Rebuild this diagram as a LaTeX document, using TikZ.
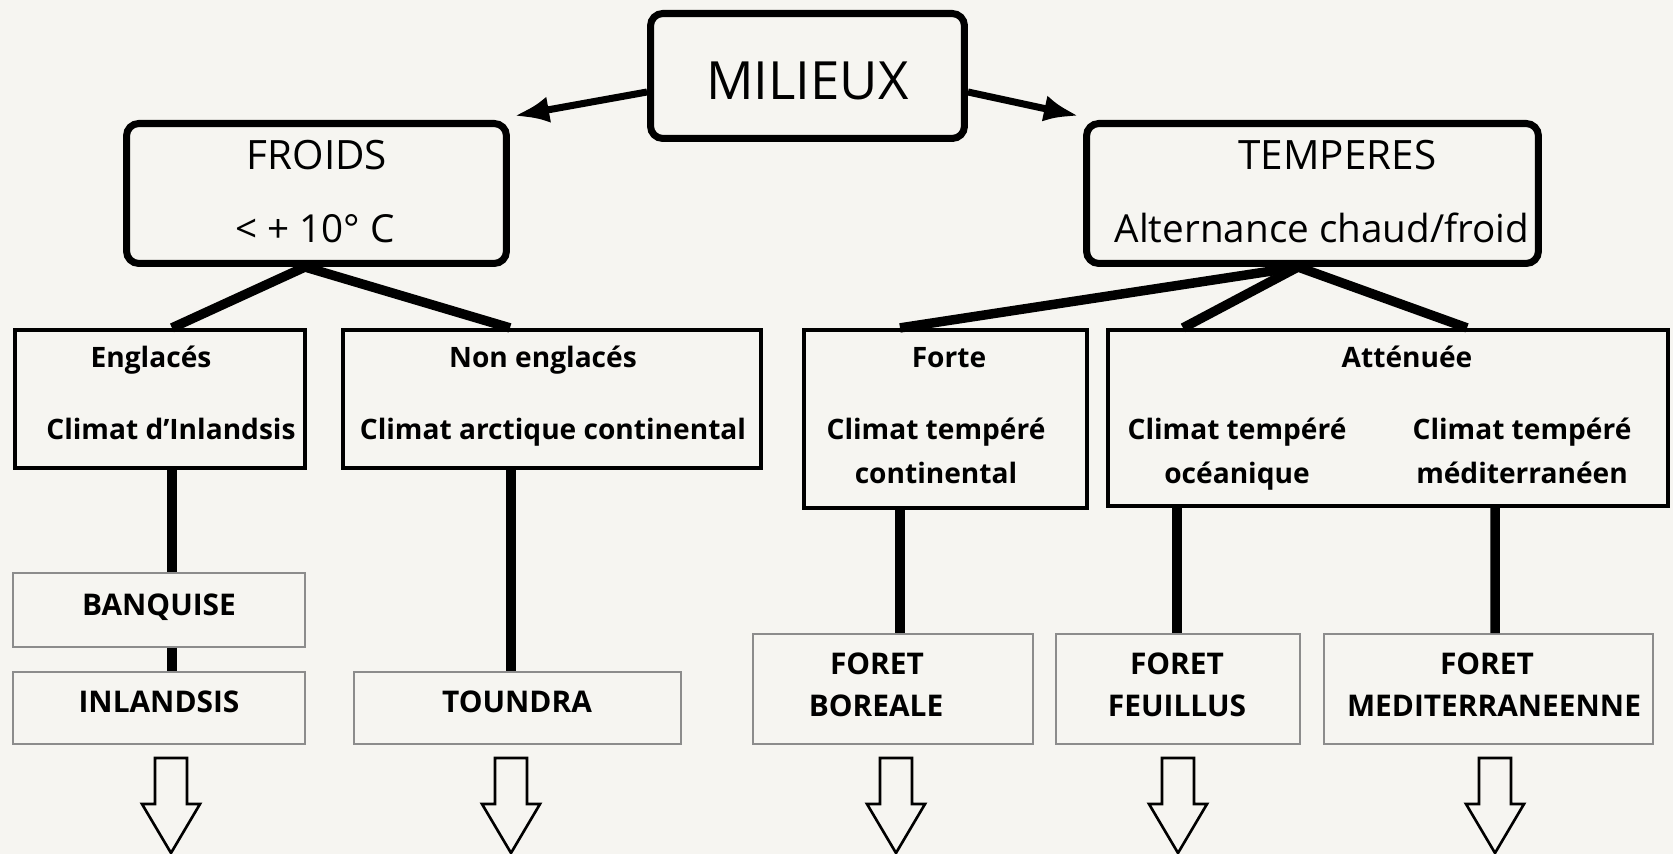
\documentclass[tikz,border=0pt]{standalone}
\usepackage{fontspec}
\setmainfont{Open Sans}
\usetikzlibrary{calc,arrows.meta}
\definecolor{bg}{RGB}{246,245,241}
\definecolor{thin}{RGB}{140,140,140}
\begin{document}
\begin{tikzpicture}[x=0.02cm,y=-0.02cm,
  topbox/.style={draw, line width=4pt, rounded corners=7pt, inner sep=0pt},
  midbox/.style={draw, line width=2.4pt, inner sep=0pt},
  lowbox/.style={draw=thin, line width=0.9pt, inner sep=0pt},
  conn/.style={line width=5.4pt},
  arr/.style={line width=4pt, -{Latex[length=20pt,width=15pt]}},
  txt/.style={inner sep=0pt, anchor=base},
  big/.style={font=\fontsize{30}{36}\selectfont},
  hd/.style={font=\fontsize{23}{28}\selectfont},
  hdb/.style={font=\fontsize{22}{28}\selectfont},
  lab/.style={font=\bfseries\fontsize{16}{20}\selectfont},
  caplab/.style={font=\bfseries\fontsize{17}{20}\selectfont},
  hollow/.style={draw, line width=1.5pt, fill=bg, line join=miter},
  downarrow/.pic={\draw[hollow] (-16,0) -- (16,0) -- (16,46) -- (29,46) -- (0,95) -- (-29,46) -- (-16,46) -- cycle;}
]
\fill[bg] (0,0) rectangle (1673,854);
\useasboundingbox (0,0) rectangle (1673,854);

% top level
\node[topbox, minimum width=6.28cm, minimum height=2.5cm] (milieux) at (807.5,76) {};
\node[txt,big] (tmil) at (807.5,100) {MILIEUX};

\node[topbox, minimum width=7.6cm, minimum height=2.8cm] (froids) at (316.5,193.5) {};
\node[txt,hd] (tfroids) at (317,170) {FROIDS};
\node[txt,hdb] (tdeg) at (315,243) {< + 10° C};

\node[topbox, minimum width=9.04cm, minimum height=2.8cm] (temperes) at (1312.5,193.5) {};
\node[txt,hd] (ttemp) at (1337.5,170) {TEMPERES};
\node[txt,hdb] (talt) at (1322,243) {Alternance chaud/froid};

% middle level
\node[midbox, minimum width=5.8cm, minimum height=2.76cm] (englaces) at (160,399) {};
\node[txt,lab] (tengl) at (151,368) {Englacés};
\node[txt,lab] (tinl) at (171,440) {Climat d'Inlandsis};

\node[midbox, minimum width=8.36cm, minimum height=2.76cm] (nonengl) at (552,399) {};
\node[txt,lab] (tnon) at (543,368) {Non englacés};
\node[txt,lab] (tarc) at (553,440) {Climat arctique continental};

\node[midbox, minimum width=5.66cm, minimum height=3.56cm] (forte) at (945.5,419) {};
\node[txt,lab] (tforte) at (949,368) {Forte};
\node[txt,lab] (tct1) at (936,440) {Climat tempéré};
\node[txt,lab] (tct2) at (936,483) {continental};

\node[midbox, minimum width=11.2cm, minimum height=3.52cm] (attenuee) at (1388,418) {};
\node[txt,lab] (tatt) at (1407,368) {Atténuée};
\node[txt,lab] (toc1) at (1237,440) {Climat tempéré};
\node[txt,lab] (toc2) at (1237,483) {océanique};
\node[txt,lab] (tme1) at (1522,440) {Climat tempéré};
\node[txt,lab] (tme2) at (1522,483) {méditerranéen};

% lower level
\node[lowbox, minimum width=5.84cm, minimum height=1.48cm] (banquise) at (159,610) {};
\node[txt,caplab] (tban) at (159,615) {BANQUISE};
\node[lowbox, minimum width=5.84cm, minimum height=1.44cm] (inlandsis) at (159,708) {};
\node[txt,caplab] (tinla) at (159,712) {INLANDSIS};
\node[lowbox, minimum width=6.54cm, minimum height=1.44cm] (toundra) at (517.5,708) {};
\node[txt,caplab] (ttou) at (517,712) {TOUNDRA};
\node[lowbox, minimum width=5.6cm, minimum height=2.2cm] (boreale) at (893,689) {};
\node[txt,caplab] (tbo1) at (877,674) {FORET};
\node[txt,caplab] (tbo2) at (876,716) {BOREALE};
\node[lowbox, minimum width=4.88cm, minimum height=2.2cm] (feuillus) at (1178,689) {};
\node[txt,caplab] (tfe1) at (1177,674) {FORET};
\node[txt,caplab] (tfe2) at (1177,716) {FEUILLUS};
\node[lowbox, minimum width=6.58cm, minimum height=2.2cm] (medit) at (1488.5,689) {};
\node[txt,caplab] (tmd1) at (1487,674) {FORET};
\node[txt,caplab] (tmd2) at (1494,716) {MEDITERRANEENNE};

% arrows from MILIEUX
\draw[arr] ($(milieux.west)+(0,16)$) -- ($(froids.north east)+(4,-4)$);
\draw[arr] ($(milieux.east)+(0,16)$) -- ($(temperes.north west)+(-4,-4)$);

% slanted connectors
\draw[conn] ($(froids.south)+(-11.5,0)$) -- ($(englaces.north)+(12,0)$);
\draw[conn] ($(froids.south)+(-11.5,0)$) -- ($(nonengl.north)+(-42,0)$);
\draw[conn] ($(temperes.south)+(-14.5,0)$) -- ($(forte.north)+(-45.5,0)$);
\draw[conn] ($(temperes.south)+(-14.5,0)$) -- ($(attenuee.north)+(-205,0)$);
\draw[conn] ($(temperes.south)+(-14.5,0)$) -- ($(attenuee.north)+(79,0)$);

% vertical connectors
\draw[conn] ($(englaces.south)+(12,0)$) -- ($(banquise.north)+(13,0)$);
\draw[conn] ($(banquise.south)+(13,0)$) -- ($(inlandsis.north)+(13,0)$);
\draw[conn] ($(nonengl.south)+(-41,0)$) -- ($(toundra.north)+(-6.5,0)$);
\draw[conn] ($(forte.south)+(-45.5,0)$) -- ($(boreale.north)+(7,0)$);
\draw[conn] ($(attenuee.south)+(-211,0)$) -- ($(feuillus.north)+(-1,0)$);
\draw[conn] ($(attenuee.south)+(107,0)$) -- ($(medit.north)+(6.5,0)$);

% hollow down arrows
\pic at (171,758) {downarrow};
\pic at (511,758) {downarrow};
\pic at (896,758) {downarrow};
\pic at (1178,758) {downarrow};
\pic at (1495,758) {downarrow};
\end{tikzpicture}
\end{document}
